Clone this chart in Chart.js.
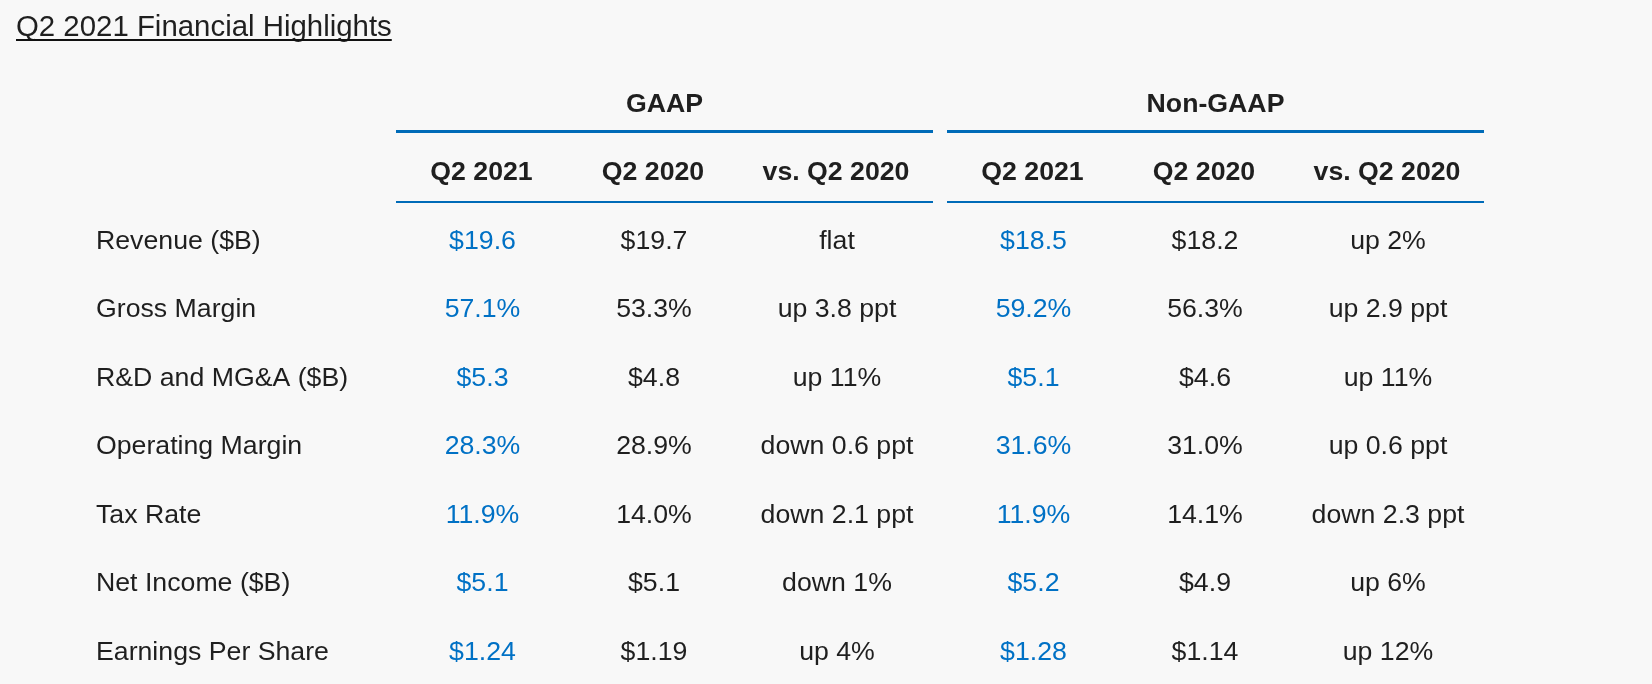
<!DOCTYPE html>
<html><head><meta charset="utf-8">
<style>html,body{margin:0;padding:0;background:#f8f8f8;}#wrap{width:1652px;height:684px;}</style>
<script src="https://cdn.jsdelivr.net/npm/chart.js@4/dist/chart.umd.min.js"></script>
</head><body><div id="wrap"><canvas id="c" width="1652" height="684"></canvas></div>
<script>
// ---------- data ----------
const title = 'Q2 2021 Financial Highlights';
const groups = ['GAAP', 'Non-GAAP'];
const periods = ['Q2 2021', 'Q2 2020', 'vs. Q2 2020'];
const metrics = ['Revenue ($B)', 'Gross Margin', 'R&D and MG&A ($B)', 'Operating Margin', 'Tax Rate', 'Net Income ($B)', 'Earnings Per Share'];
const gaapQ2_2021    = ['$19.6', '57.1%', '$5.3', '28.3%', '11.9%', '$5.1', '$1.24'];
const gaapQ2_2020    = ['$19.7', '53.3%', '$4.8', '28.9%', '14.0%', '$5.1', '$1.19'];
const gaapChange     = ['flat', 'up 3.8 ppt', 'up 11%', 'down 0.6 ppt', 'down 2.1 ppt', 'down 1%', 'up 4%'];
const nonGaapQ2_2021 = ['$18.5', '59.2%', '$5.1', '31.6%', '11.9%', '$5.2', '$1.28'];
const nonGaapQ2_2020 = ['$18.2', '56.3%', '$4.6', '31.0%', '14.1%', '$4.9', '$1.14'];
const nonGaapChange  = ['up 2%', 'up 2.9 ppt', 'up 11%', 'up 0.6 ppt', 'down 2.3 ppt', 'up 6%', 'up 12%'];

// ---------- layout / style ----------
const FONT = '"Liberation Sans", Arial, Helvetica, sans-serif';
const BG = '#f8f8f8';
const DARK = '#1f1f1f';
const BLUE = '#0071c5';
const RULE = '#006bb8';
const BODY = 26.7, HEAD = 26.7, TITLE = 29.4;
const tableLeft = 80, labelPad = 16;
const colWidths = [316, 171, 172, 194, 14, 171, 172, 194]; // label, GAAP x3, gap, Non-GAAP x3
const edges = [tableLeft];
colWidths.forEach(w => edges.push(edges[edges.length - 1] + w));
const colCenter = i => (edges[i] + edges[i + 1]) / 2;
const dataCols = [1, 2, 3, 5, 6, 7];
const groupSpans = [[edges[1], edges[4]], [edges[5], edges[8]]];
const rowKeys = ['__group', '__period'].concat(metrics);
const rules = [{at: 0.43, width: 3}, {at: 1.46, width: 2}];

// ---------- datasets (one per table column / header row) ----------
function ds(texts, xs, rowsY, opts) {
  return Object.assign({
    data: texts.map((t, i) => ({x: xs[i], y: rowsY[i]})),
    texts: texts, pointRadius: 0, pointHoverRadius: 0, showLine: false,
    fontSize: BODY, bold: false, textColor: DARK, textAlign: 'center'
  }, opts);
}
const valueCols = [gaapQ2_2021, gaapQ2_2020, gaapChange, nonGaapQ2_2021, nonGaapQ2_2020, nonGaapChange];
const datasets = [];
datasets.push(ds(metrics, metrics.map(() => tableLeft + labelPad), metrics, {textAlign: 'left'}));
valueCols.forEach((col, k) => {
  datasets.push(ds(col, col.map(() => colCenter(dataCols[k]) + 1), metrics,
    {textColor: (k % 3 === 0) ? BLUE : DARK}));
});
const periodTexts = periods.concat(periods);
datasets.push(ds(periodTexts, dataCols.map(c => colCenter(c)), periodTexts.map(() => '__period'), {bold: true, fontSize: HEAD}));
datasets.push(ds(groups, groupSpans.map(s => (s[0] + s[1]) / 2), groups.map(() => '__group'), {bold: true, fontSize: HEAD}));

const tablePlugin = {
  id: 'tableCells',
  beforeDraw(chart) {
    const ctx = chart.ctx;
    ctx.save(); ctx.fillStyle = BG; ctx.fillRect(0, 0, chart.width, chart.height); ctx.restore();
  },
  afterDatasetsDraw(chart) {
    const ctx = chart.ctx;
    const y = chart.scales.y, x = chart.scales.x;
    // rules under headers
    ctx.save();
    ctx.strokeStyle = RULE;
    rules.forEach(r => {
      const py = y.getPixelForValue(r.at);
      ctx.lineWidth = r.width;
      groupSpans.forEach(s => {
        ctx.beginPath();
        ctx.moveTo(x.getPixelForValue(s[0]), py);
        ctx.lineTo(x.getPixelForValue(s[1]), py);
        ctx.stroke();
      });
    });
    ctx.restore();
    // cell texts
    chart.data.datasets.forEach((d, di) => {
      const meta = chart.getDatasetMeta(di);
      ctx.save();
      ctx.font = (d.bold ? 'bold ' : '') + d.fontSize + 'px ' + FONT;
      ctx.fillStyle = d.textColor;
      ctx.textAlign = d.textAlign;
      ctx.textBaseline = 'alphabetic';
      meta.data.forEach((el, i) => {
        ctx.fillText(d.texts[i], el.x, el.y + d.fontSize * 0.358);
      });
      ctx.restore();
    });
    // title with underline
    ctx.save();
    ctx.font = TITLE + 'px ' + FONT;
    ctx.fillStyle = DARK;
    ctx.textAlign = 'left';
    ctx.textBaseline = 'alphabetic';
    const tx = 16, ty = 36;
    ctx.fillText(title, tx, ty);
    const w = ctx.measureText(title).width;
    ctx.fillStyle = '#111';
    ctx.fillRect(tx, ty + 3, w, 2);
    ctx.restore();
  }
};

new Chart(document.getElementById('c'), {
  type: 'scatter',
  data: {datasets: datasets},
  options: {
    responsive: false, animation: false, devicePixelRatio: 1, events: [],
    layout: {padding: {top: 102, bottom: 34, left: 0, right: 0}},
    plugins: {legend: {display: false}, tooltip: {enabled: false}, title: {display: false}},
    scales: {
      x: {type: 'linear', min: 0, max: 1652, display: false},
      y: {type: 'category', labels: rowKeys, display: false, offset: false}
    }
  },
  plugins: [tablePlugin]
});
</script>
</body></html>
